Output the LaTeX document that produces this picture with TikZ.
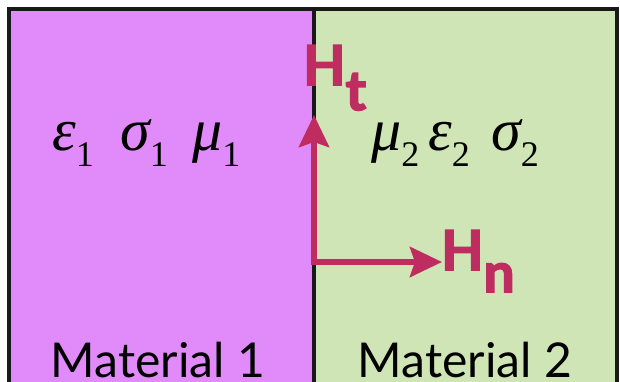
\documentclass[tikz,border=0pt]{standalone}
\usepackage{fontspec}
\setmainfont{Lato}
\newfontfamily\grk{Liberation Serif}
\newfontfamily\hfont[BoldFeatures={FakeBold=3}]{Lato}
\usetikzlibrary{arrows.meta}
\definecolor{magfill}{HTML}{E18BFA}
\definecolor{grnfill}{HTML}{CFE5B6}
\definecolor{crim}{HTML}{BF2C5F}
\newcommand{\subnum}[1]{\raisebox{-17pt}{\fontsize{36}{36}\selectfont\upshape #1}}
\begin{document}
\begin{tikzpicture}[x=1pt,y=-1pt,
  border/.style={line width=3.5pt, black!90},
  vec/.style={line width=6pt, crim, line cap=rect, -{Stealth[length=32pt,width=30pt,inset=5pt]}},
  sym/.style={anchor=base west, inner sep=0pt, font=\grk\itshape\fontsize{60}{60}\selectfont},
  lab/.style={anchor=base west, inner sep=0pt, text=crim, font=\hfont\bfseries\fontsize{55}{55}\selectfont},
  mat/.style={anchor=base, inner sep=0pt, font=\fontsize{48}{48}\selectfont}]
\useasboundingbox (0,0) rectangle (620,382);
\fill[white] (0,0) rectangle (620,382);
\fill[magfill] (9,9) rectangle (314,382);
\fill[grnfill] (314,9) rectangle (617,382);
\draw[border] (9,382) -- (9,9) -- (617,9) -- (617,382);
\draw[border] (314,9) -- (314,382);
% vectors
\coordinate (o) at (314,262);
\coordinate (tt) at (314,115);
\coordinate (tn) at (442,262);
\draw[vec] (o) -- (tt);
\draw[vec] (o) -- (tn);
% labels
\node[lab] (Ht) at (303,85) {H\kern0pt\raisebox{-25pt}{t}};
\node[lab] (Hn) at (441,270) {H\kern0pt\raisebox{-22pt}{n}};
% material symbols
\node[sym] (e1) at (52,150) {ε\subnum{1}};
\node[sym] (s1) at (120,150) {σ\subnum{1}};
\node[sym] (m1) at (192,150) {μ\subnum{1}};
\node[sym] (m2) at (371,150) {μ\subnum{2}};
\node[sym] (e2) at (428,150) {ε\subnum{2}};
\node[sym] (s2) at (491,150) {σ\subnum{2}};
% material names
\node[mat] (mat1) at (158,377) {Material 1};
\node[mat] (mat2) at (465,377) {Material 2};
\end{tikzpicture}
\end{document}
